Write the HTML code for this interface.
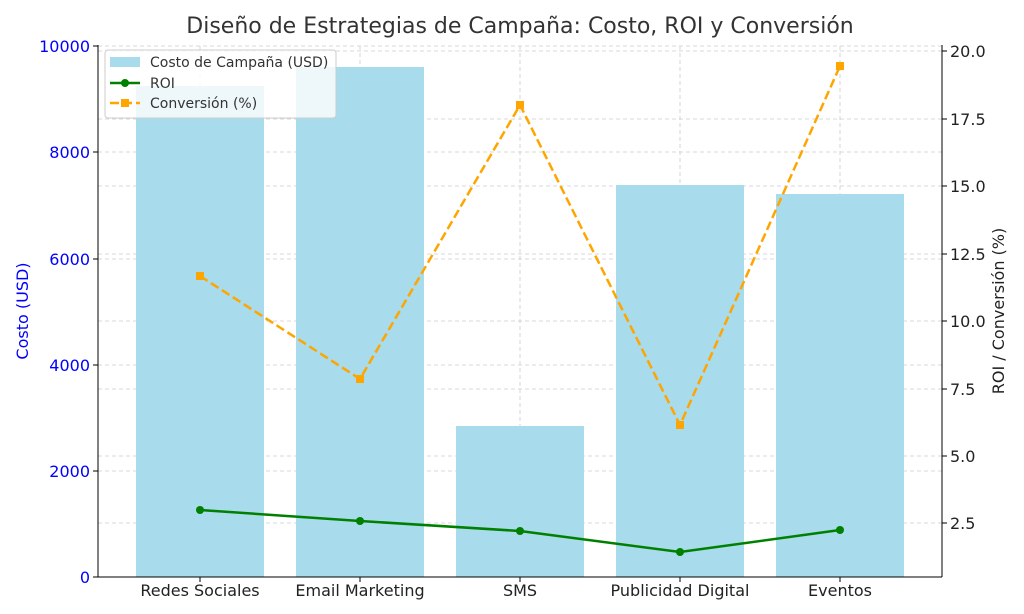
<!DOCTYPE html>
<html><head><meta charset="utf-8"><style>body{margin:0;background:#fff}svg{display:block}text{font-family:"DejaVu Sans","Liberation Sans",sans-serif}</style></head><body>
<svg width="1024" height="614" viewBox="0 0 1024 614">
<g stroke="#ccc" stroke-dasharray="4,3" stroke-width="0.8">
<line x1="98" x2="942" y1="471" y2="471"/><line x1="98" x2="942" y1="365" y2="365"/><line x1="98" x2="942" y1="259" y2="259"/><line x1="98" x2="942" y1="152" y2="152"/><line x1="98" x2="942" y1="46" y2="46"/>
<line x1="98" x2="942" y1="523" y2="523"/><line x1="98" x2="942" y1="456" y2="456"/><line x1="98" x2="942" y1="389" y2="389"/><line x1="98" x2="942" y1="321" y2="321"/><line x1="98" x2="942" y1="254" y2="254"/><line x1="98" x2="942" y1="186" y2="186"/><line x1="98" x2="942" y1="119" y2="119"/><line x1="98" x2="942" y1="51" y2="51"/>
<line x1="200" x2="200" y1="46" y2="577"/><line x1="360" x2="360" y1="46" y2="577"/><line x1="520" x2="520" y1="46" y2="577"/><line x1="680" x2="680" y1="46" y2="577"/><line x1="840" x2="840" y1="46" y2="577"/>
</g>
<g fill="#a8dbec">
<rect x="136" y="86" width="128" height="491"/><rect x="296" y="67" width="128" height="510"/><rect x="456" y="426" width="128" height="151"/><rect x="616" y="185" width="128" height="392"/><rect x="776" y="194" width="128" height="383"/>
</g>
<polyline points="200,510 360,521 520,531 680,552 840,530" fill="none" stroke="#008000" stroke-width="2.5"/>
<g fill="#008000"><circle cx="200" cy="510" r="4"/><circle cx="360" cy="521" r="4"/><circle cx="520" cy="531" r="4"/><circle cx="680" cy="552" r="4"/><circle cx="840" cy="530" r="4"/></g>
<polyline points="200,276 360,379 520,105 680,425 840,66" fill="none" stroke="#ffa500" stroke-width="2.5" stroke-dasharray="9,4"/>
<g fill="#ffa500"><rect x="196" y="272" width="8" height="8"/><rect x="356" y="375" width="8" height="8"/><rect x="516" y="101" width="8" height="8"/><rect x="676" y="421" width="8" height="8"/><rect x="836" y="62" width="8" height="8"/></g>
<g stroke="#000" stroke-width="1" fill="none"><line x1="98" y1="45" x2="98" y2="577"/><line x1="942" y1="45" x2="942" y2="577"/><line x1="98" y1="577" x2="942" y2="577"/></g>
<g stroke="#000"><line x1="93" x2="98" y1="577" y2="577"/><line x1="93" x2="98" y1="471" y2="471"/><line x1="93" x2="98" y1="365" y2="365"/><line x1="93" x2="98" y1="259" y2="259"/><line x1="93" x2="98" y1="152" y2="152"/><line x1="93" x2="98" y1="46" y2="46"/>
<line x1="942" x2="947" y1="523" y2="523"/><line x1="942" x2="947" y1="456" y2="456"/><line x1="942" x2="947" y1="389" y2="389"/><line x1="942" x2="947" y1="321" y2="321"/><line x1="942" x2="947" y1="254" y2="254"/><line x1="942" x2="947" y1="186" y2="186"/><line x1="942" x2="947" y1="119" y2="119"/><line x1="942" x2="947" y1="51" y2="51"/>
<line x1="200" x2="200" y1="577" y2="582"/><line x1="360" x2="360" y1="577" y2="582"/><line x1="520" x2="520" y1="577" y2="582"/><line x1="680" x2="680" y1="577" y2="582"/><line x1="840" x2="840" y1="577" y2="582"/></g>
<g font-size="16" fill="#0000ff" text-anchor="end"><text x="90" y="583">0</text><text x="90" y="477">2000</text><text x="90" y="371">4000</text><text x="90" y="265">6000</text><text x="90" y="158">8000</text><text x="90" y="52">10000</text></g>
<g font-size="16" fill="#222" text-anchor="start"><text x="950" y="529">2.5</text><text x="950" y="462">5.0</text><text x="950" y="395">7.5</text><text x="950" y="327">10.0</text><text x="950" y="260">12.5</text><text x="950" y="192">15.0</text><text x="950" y="125">17.5</text><text x="950" y="57">20.0</text></g>
<g font-size="16" fill="#222" text-anchor="middle"><text x="200" y="596">Redes Sociales</text><text x="360" y="596">Email Marketing</text><text x="520" y="596">SMS</text><text x="680" y="596">Publicidad Digital</text><text x="840" y="596">Eventos</text></g>
<text x="28" y="311" font-size="16" fill="#0000ff" text-anchor="middle" transform="rotate(-90 28 311)">Costo (USD)</text>
<text x="1004" y="311" font-size="16" fill="#222" text-anchor="middle" transform="rotate(-90 1004 311)">ROI / Conversión (%)</text>
<text x="520" y="33" font-size="22" fill="#333" text-anchor="middle">Diseño de Estrategias de Campaña: Costo, ROI y Conversión</text>
<rect x="105" y="50" width="231" height="68" rx="3" fill="#fff" fill-opacity="0.8" stroke="#ccc"/>
<rect x="110" y="57" width="30" height="10" fill="#a8dbec"/>
<text x="150" y="67" font-size="14" fill="#333">Costo de Campaña (USD)</text>
<line x1="110" x2="140" y1="83" y2="83" stroke="#008000" stroke-width="2.5"/><circle cx="125" cy="83" r="4" fill="#008000"/>
<text x="150" y="88" font-size="14" fill="#333">ROI</text>
<line x1="110" x2="140" y1="103" y2="103" stroke="#ffa500" stroke-width="2.5" stroke-dasharray="9,4"/><rect x="121" y="99" width="8" height="8" fill="#ffa500"/>
<text x="150" y="108" font-size="14" fill="#333">Conversión (%)</text>
</svg>
</body></html>
